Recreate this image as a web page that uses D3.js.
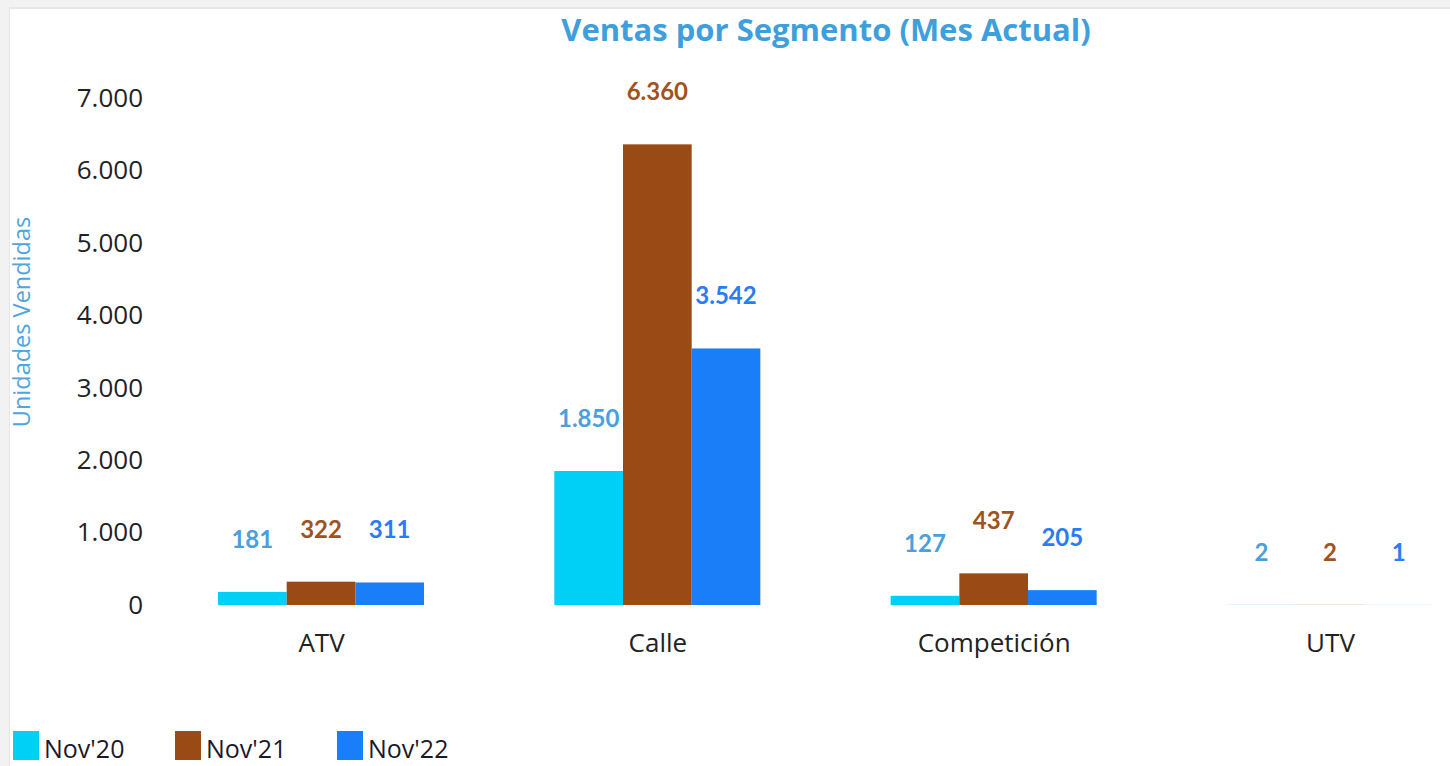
<!DOCTYPE html>
<html lang="es">
<head>
  <meta charset="UTF-8">
  <title>Ventas por Segmento</title>
  <script src="https://d3js.org/d3.v7.min.js"></script>
  <style>
    html, body { margin: 0; padding: 0; background: #fff; overflow: hidden; }
    svg { display: block; }
  </style>
</head>
<body>
  <div id="canvas"></div>
  <script>
    // data
    const segments = ['ATV', 'Calle', 'Competición', 'UTV'];
    const periods = ["Nov'20", "Nov'21", "Nov'22"];
    const nov20 = [181, 1850, 127, 2];
    const nov21 = [322, 6360, 437, 2];
    const nov22 = [311, 3542, 205, 1];
    const yTicks = [0, 1000, 2000, 3000, 4000, 5000, 6000, 7000];

    const barColors = ['#00d0f5', '#9a4a15', '#1a7ef8'];
    const labelColors = ['#4a9fdc', '#a0521f', '#2a7cf2'];

    const width = 1450;
    const height = 766;

    const series = [nov20, nov21, nov22];
    const rows = segments.map((s, i) => ({
      segment: s,
      values: periods.map((p, j) => ({ period: p, idx: j, value: series[j][i] }))
    }));

    const es = d3.formatLocale({ decimal: ',', thousands: '.', grouping: [3], currency: ['', '€'] });
    const fmt = es.format(',d');

    const svg = d3.select('#canvas')
      .append('svg')
      .attr('width', width)
      .attr('height', height);

    // grey frame around the panel
    svg.append('rect').attr('width', width).attr('height', height).attr('fill', '#f2f2f2');
    svg.append('rect').attr('x', 9).attr('y', 7).attr('width', width).attr('height', height).attr('fill', '#e6e6e6');
    svg.append('rect').attr('x', 10).attr('y', 9).attr('width', width).attr('height', height).attr('fill', '#ffffff');

    const scaleY = d3.scaleLinear().domain([0, 7000]).range([605, 98]);
    const scaleX = d3.scalePoint().domain(segments).range([321, 1330]);
    const inner = d3.scaleBand().domain(periods).range([-103, 103]).padding(0);

    // title
    svg.append('text')
      .attr('x', 826)
      .attr('y', 41)
      .attr('text-anchor', 'middle')
      .attr('fill', '#3f9fdd')
      .style('font-family', '"Open Sans", sans-serif')
      .style('font-weight', 'bold')
      .style('font-size', '31px')
      .text('Ventas por Segmento (Mes Actual)');

    // y axis label
    svg.append('text')
      .attr('transform', 'translate(30, 322) rotate(-90)')
      .attr('text-anchor', 'middle')
      .attr('fill', '#4ea5e0')
      .style('font-family', '"Open Sans", sans-serif')
      .style('font-size', '23.5px')
      .text('Unidades Vendidas');

    // y axis
    const yAxis = d3.axisLeft(scaleY).tickValues(yTicks).tickFormat(fmt).tickSize(0).tickPadding(0);
    const gy = svg.append('g')
      .attr('transform', 'translate(143, 0)')
      .call(yAxis);
    gy.select('.domain').remove();
    gy.selectAll('text')
      .attr('fill', '#222')
      .style('font-family', '"Open Sans", sans-serif')
      .style('font-size', '26px');

    // x axis
    const xAxis = d3.axisBottom(scaleX).tickSize(0).tickPadding(0);
    const gx = svg.append('g')
      .attr('transform', 'translate(0, 634)')
      .call(xAxis);
    gx.select('.domain').remove();
    gx.selectAll('text')
      .attr('fill', '#222')
      .style('font-family', '"Open Sans", sans-serif')
      .style('font-size', '26px');

    // bars
    const groups = svg.append('g')
      .selectAll('g')
      .data(rows)
      .enter()
      .append('g')
      .attr('transform', d => 'translate(' + scaleX(d.segment) + ',0)');

    groups.selectAll('rect')
      .data(d => d.values)
      .enter()
      .append('rect')
      .attr('x', d => inner(d.period))
      .attr('width', inner.bandwidth())
      .attr('y', d => scaleY(d.value))
      .attr('height', d => scaleY(0) - scaleY(d.value))
      .attr('fill', d => barColors[d.idx]);

    groups.selectAll('text.label')
      .data(d => d.values)
      .enter()
      .append('text')
      .attr('class', 'label')
      .attr('x', d => inner(d.period) + inner.bandwidth() / 2)
      .attr('y', d => scaleY(d.value) - 44)
      .attr('text-anchor', 'middle')
      .attr('fill', d => labelColors[d.idx])
      .style('font-family', 'Lato, sans-serif')
      .style('font-weight', 'bold')
      .style('font-size', '24px')
      .text(d => fmt(d.value));

    // legend
    const legend = svg.append('g')
      .selectAll('g')
      .data(periods)
      .enter()
      .append('g')
      .attr('transform', (d, i) => 'translate(' + (13 + i * 162) + ', 731)');
    legend.append('rect')
      .attr('width', 26)
      .attr('height', 29)
      .attr('fill', (d, i) => barColors[i]);
    legend.append('text')
      .attr('x', 31)
      .attr('y', 27)
      .attr('fill', '#1a1a2a')
      .style('font-family', '"Open Sans", sans-serif')
      .style('font-size', '25px')
      .text(d => d);
  </script>
</body>
</html>
